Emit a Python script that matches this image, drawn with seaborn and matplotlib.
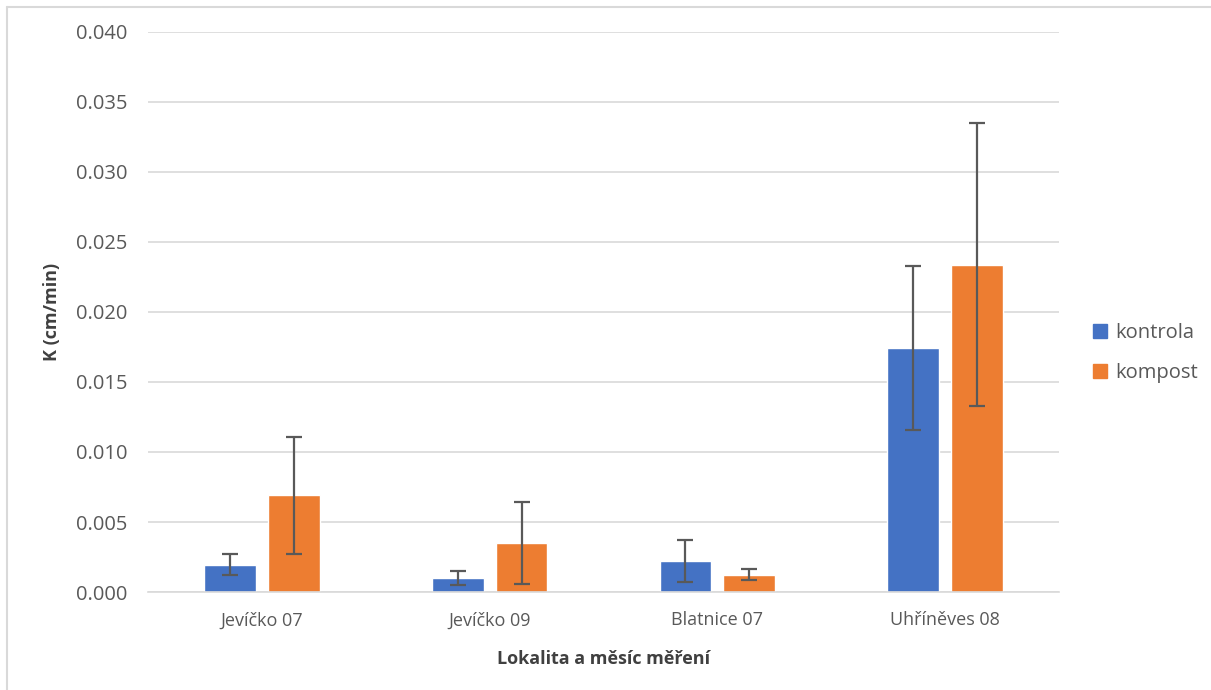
import matplotlib
matplotlib.use("Agg")
import matplotlib.pyplot as plt
import seaborn as sns
import pandas as pd
import numpy as np
from matplotlib.lines import Line2D

categories = ["Jevíčko 07", "Jevíčko 09", "Blatnice 07", "Uhříněves 08"]
series = ["kontrola", "kompost"]
kontrola = [0.00193, 0.00103, 0.00220, 0.01742]
kompost = [0.00690, 0.00350, 0.00125, 0.02338]
kontrola_err = [0.00075, 0.00050, 0.00150, 0.00585]
kompost_err = [0.00418, 0.00296, 0.00042, 0.01012]
yticks = [0.0, 0.005, 0.010, 0.015, 0.020, 0.025, 0.030, 0.035, 0.040]

colors = ["#4472C4", "#ED7D31"]

sns.set_style("white")
plt.rcParams['font.family'] = ['Open Sans', 'DejaVu Sans']

df = pd.DataFrame({
    "cat": categories * 2,
    "series": [series[0]] * 4 + [series[1]] * 4,
    "val": kontrola + kompost,
})

fig = plt.figure(figsize=(12.11, 6.90), dpi=100)
ax = fig.add_axes([148/1211, 1 - 592/690, (1059-148)/1211, (592-32)/690])

sns.barplot(data=df, x="cat", y="val", hue="series", order=categories,
            hue_order=series, palette=colors, width=0.56, gap=0.19,
            errorbar=None, ax=ax, saturation=1, legend=False)

# error bars
errs = {series[0]: kontrola_err, series[1]: kompost_err}
vals = {series[0]: kontrola, series[1]: kompost}
patches = [p for p in ax.patches]
for si, s in enumerate(series):
    ps = patches[si*4:(si+1)*4]
    xs = [p.get_x() + p.get_width()/2 for p in ps]
    ax.errorbar(xs, vals[s], yerr=errs[s], fmt="none", ecolor="#595959",
                elinewidth=1.6, capsize=6, capthick=1.6, zorder=5)

ax.set_xlim(-0.5, 3.5)
ax.set_ylim(0, 0.040)
ax.set_yticks(yticks)
ax.set_yticklabels([f"{t:.3f}" for t in yticks])
ax.yaxis.grid(True, color="#D9D9D9", linewidth=1.2)
ax.set_axisbelow(True)
for sp in ["top", "right", "left"]:
    ax.spines[sp].set_visible(False)
ax.spines["bottom"].set_color("#D9D9D9")
ax.spines["bottom"].set_linewidth(1.2)
ax.tick_params(axis="both", length=0, labelcolor="#595959")
ax.tick_params(axis="y", pad=15, labelsize=14.5)
ax.tick_params(axis="x", pad=14, labelsize=13)

ax.set_xlabel("Lokalita a měsíc měření", fontsize=13, fontweight="bold",
              color="#404040", labelpad=15)
ax.set_ylabel("K (cm/min)", fontsize=13, fontweight="bold", color="#404040")
ax.yaxis.set_label_coords(-0.095, 0.5)

handles = [plt.Rectangle((0, 0), 1, 1, color=c) for c in colors]
fig.legend(handles, series, loc="center left", bbox_to_anchor=(1075/1211, 1 - 353/690),
           frameon=False, fontsize=14.5, handlelength=0.7, handleheight=0.7,
           handletextpad=0.4, labelspacing=1.0, labelcolor="#595959")

# figure border (left/top visible)
fig.add_artist(Line2D([7/1211, 7/1211], [0, 1 - 7/690], color="#D9D9D9", lw=1.5,
                      transform=fig.transFigure))
fig.add_artist(Line2D([7/1211, 1], [1 - 7/690, 1 - 7/690], color="#D9D9D9", lw=1.5,
                      transform=fig.transFigure))

fig.savefig("out.png", dpi=100)
